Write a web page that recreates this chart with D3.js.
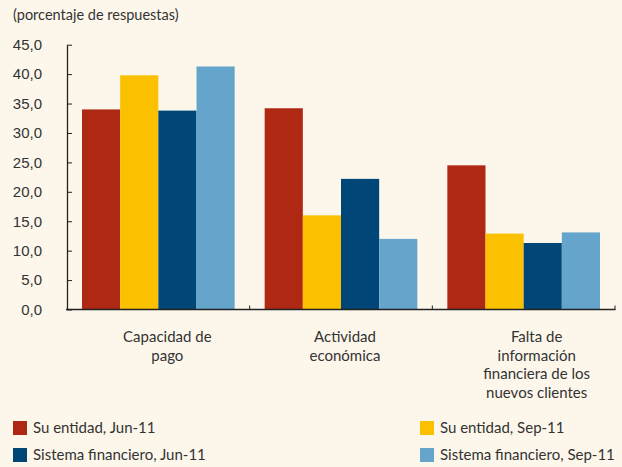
<!DOCTYPE html>
<html>
<head>
<meta charset="utf-8">
<script src="https://cdn.jsdelivr.net/npm/d3@7"></script>
<style>
  body { margin: 0; background: #fdf7eb; }
  svg { display: block; font-family: Lato, "Open Sans", sans-serif; }
  text { fill: #333; }
</style>
</head>
<body>
<div id="chart"></div>
<script>
// datos
const categorias = [
  ["Capacidad de", "pago"],
  ["Actividad", "económica"],
  ["Falta de", "información", "financiera de los", "nuevos clientes"]
];
const series = ["Su entidad, Jun-11", "Su entidad, Sep-11", "Sistema financiero, Jun-11", "Sistema financiero, Sep-11"];
const colores = ["#ae2814", "#fbc000", "#004677", "#65a5cc"];
const suEntidadJun = [34.0, 34.2, 24.5];
const suEntidadSep = [39.8, 16.0, 12.9];
const sistemaJun = [33.8, 22.2, 11.3];
const sistemaSep = [41.3, 12.0, 13.1];
const yTicks = [0, 5, 10, 15, 20, 25, 30, 35, 40, 45];

const valores = [suEntidadJun, suEntidadSep, sistemaJun, sistemaSep];
const W = 622, H = 467;

const svg = d3.select("#chart").append("svg")
  .attr("width", W).attr("height", H);

svg.append("rect").attr("width", W).attr("height", H).attr("fill", "#fdf7eb");

const locale = d3.formatLocale({ decimal: ",", thousands: ".", grouping: [3], currency: ["", ""] });
const fmt = locale.format(".1f");

const y = d3.scaleLinear().domain([0, 45]).range([309.5, 44.7]);
const x0 = d3.scaleBand().domain(d3.range(categorias.length)).range([67, 615]).padding(0);
const x1 = d3.scaleBand().domain(d3.range(series.length)).range([15, x0.bandwidth() - 15]).padding(0);

// titulo del eje
svg.append("text")
  .attr("x", 13).attr("y", 20)
  .style("font-size", "14.5px")
  .text("(porcentaje de respuestas)");

// barras
const grupos = svg.selectAll("g.grupo")
  .data(categorias.map((c, i) => i))
  .enter().append("g")
  .attr("class", "grupo")
  .attr("transform", i => `translate(${x0(i)},0)`);

grupos.selectAll("rect")
  .data(i => valores.map((s, k) => ({ k, v: s[i] })))
  .enter().append("rect")
  .attr("x", d => x1(d.k))
  .attr("y", d => y(d.v))
  .attr("width", x1.bandwidth())
  .attr("height", d => y(0) - y(d.v))
  .attr("fill", d => colores[d.k]);

// eje y
const yAxis = svg.append("g")
  .attr("transform", "translate(67,0)")
  .call(d3.axisLeft(y).tickValues(yTicks).tickFormat(fmt).tickSize(-5).tickSizeOuter(0).tickPadding(25));
yAxis.select(".domain").attr("stroke", "#222").attr("stroke-width", 1.3);
yAxis.selectAll(".tick line").attr("stroke", "#222");
yAxis.selectAll(".tick text").style("font-size", "15px").style("fill", "#333").attr("font-family", null);

// eje x
svg.append("line")
  .attr("x1", 66).attr("x2", 615.5)
  .attr("y1", y(0)).attr("y2", y(0))
  .attr("stroke", "#222").attr("stroke-width", 1.3);
svg.selectAll("line.xtick")
  .data(categorias.map((c, i) => i))
  .enter().append("line")
  .attr("class", "xtick")
  .attr("x1", i => x0(i) + x0.bandwidth())
  .attr("x2", i => x0(i) + x0.bandwidth())
  .attr("y1", y(0)).attr("y2", y(0) - 4)
  .attr("stroke", "#222");

// etiquetas de categoria
const offsets = [9, 4, 13];
svg.selectAll("text.cat")
  .data(categorias)
  .enter().append("text")
  .attr("class", "cat")
  .attr("text-anchor", "middle")
  .style("font-size", "15px")
  .each(function (lineas, i) {
    const cx = x0(i) + x0.bandwidth() / 2 + offsets[i];
    d3.select(this).selectAll("tspan")
      .data(lineas)
      .enter().append("tspan")
      .attr("x", cx)
      .attr("y", (d, j) => 342 + j * 18.5)
      .text(d => d);
  });

// leyenda
const legPos = [[13, 421], [420, 421], [13, 448], [420, 448]];
const leg = svg.selectAll("g.leg")
  .data(series)
  .enter().append("g")
  .attr("class", "leg")
  .attr("transform", (d, i) => `translate(${legPos[i][0]},${legPos[i][1]})`);
leg.append("rect")
  .attr("width", 14).attr("height", 14)
  .attr("fill", (d, i) => colores[i]);
leg.append("text")
  .attr("x", 20).attr("y", 12)
  .style("font-size", "15px")
  .text(d => d);
</script>
</body>
</html>
